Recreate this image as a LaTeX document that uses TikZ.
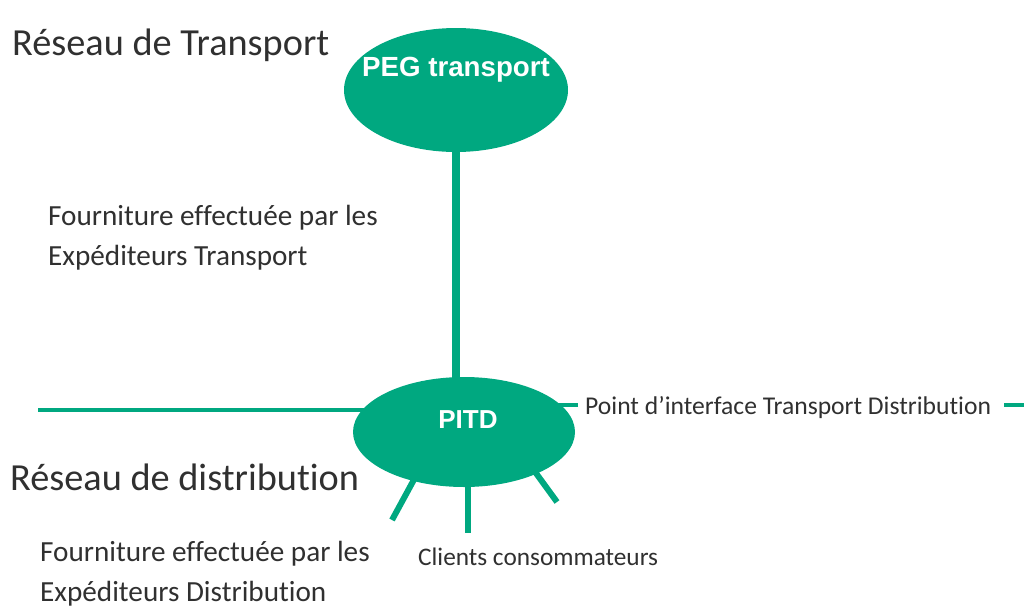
\documentclass[tikz,border=0pt]{standalone}
\usepackage{fontspec}
\setmainfont{Carlito}[Ligatures=NoCommon]
\newfontfamily\arialf{Liberation Sans}
\usetikzlibrary{shapes.geometric,backgrounds}
\definecolor{pegreen}{RGB}{0,168,128}
\definecolor{txtgray}{RGB}{48,48,48}
\tikzset{
  bubble/.style={ellipse,fill=pegreen,draw=none,inner sep=0pt},
  wlabel/.style={text=white,font=\arialf\bfseries\fontsize{#1}{#1}\selectfont,inner sep=0pt},
  title/.style={text=txtgray,font=\fontsize{38.3}{40}\selectfont,inner sep=0pt,anchor=west},
  body/.style={text=txtgray,font=\fontsize{29.2}{40}\selectfont,inner sep=0pt,anchor=west,align=left},
  small/.style={text=txtgray,font=\fontsize{#1}{30}\selectfont,inner sep=0pt,anchor=west},
  link/.style={draw=pegreen,line width=#1},
}
\begin{document}
\begin{tikzpicture}[x=1pt,y=-1pt]
\useasboundingbox (0,0) rectangle (1024,608);
\node[bubble,minimum width=224,minimum height=124] (peg) at (456,90) {};
\node[wlabel=27.7] (pegtext) at (456,70) {PEG transport};
\node[bubble,minimum width=222,minimum height=110] (pitd) at (464,432) {};
\node[wlabel=26] (pitdtext) at (468,420) {PITD};
\node[title] (rt) at (12,45) {Réseau de Transport};
\node[title] (rd) at (10,477) {Réseau de distribution};
\node[body] (ft) at (48,238) {Fourniture effectuée par les\\Expéditeurs Transport};
\node[body] (fd) at (40,574) {Fourniture effectuée par les\\Expéditeurs Distribution};
\node[small=25.3] (cc) at (418,557) {Clients consommateurs};
\node[small=25.6,inner xsep=7pt] (pi) at (578,408) {Point d’interface Transport Distribution};
\coordinate (lend) at (38,410);
\coordinate (rend) at (1024,405);
\coordinate (s1) at (392,520);
\coordinate (s2) at (468,533);
\coordinate (s3) at (557,502);
\begin{scope}[on background layer]
\draw[link=8pt] (peg.south) -- (peg.south |- pitd.center);
\draw[link=3.5pt] (lend) -- (lend -| pitd.center);
\draw[link=3.5pt] (pi.west |- rend) -- (pitd.center |- rend);
\draw[link=6pt,shorten <=-6pt] (pitd.224) -- (s1);
\draw[link=6pt] (s2 |- pitd.center) -- (s2);
\draw[link=6pt,shorten <=-6pt] (pitd.330) -- (s3);
\end{scope}
\draw[link=3.5pt] (pi.east |- rend) ++(6,0) -- (rend);
\end{tikzpicture}
\end{document}
